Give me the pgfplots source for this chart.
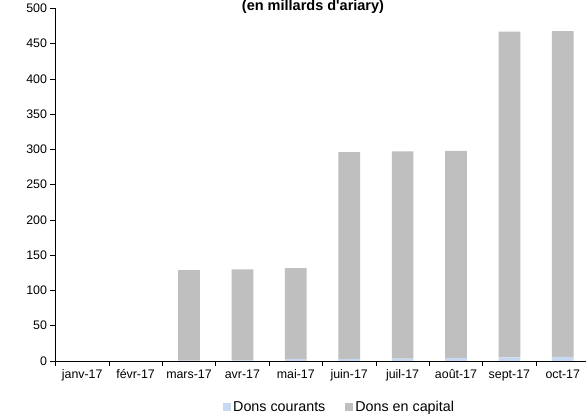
\documentclass[border=0pt]{standalone}
\usepackage{pgfplots}
\pgfplotsset{compat=1.18}
\usepackage{fontspec}
\setmainfont{Liberation Sans}
\definecolor{courant}{RGB}{198,217,241}
\definecolor{capital}{RGB}{191,191,191}
\begin{document}
\begin{tikzpicture}
\path[use as bounding box] (-55.5pt,-56pt) rectangle (530.5pt,361pt);
\begin{axis}[
  at={(0pt,0pt)}, anchor=south west,
  scale only axis, width=534pt, height=352.7pt,
  ybar stacked, bar width=21.7pt,
  xmin=-0.5, xmax=9.5, ymin=0, ymax=500,
  ytick={0,50,...,500},
  xtick={0,...,9},
  xticklabels={janv-17,févr-17,mars-17,avr-17,mai-17,juin-17,juil-17,août-17,sept-17,oct-17},
  major x tick style={draw=none},
  minor xtick={-0.5,0.5,...,9.5},
  tick align=outside, major tick length=5pt, minor tick length=5pt,
  tick style={black, line width=0.6pt},
  axis x line*=bottom, axis y line*=left,
  axis line style={black, line width=0.8pt, -},
  /pgf/number format/assume math mode=true,
  tick label style={font=\fontsize{12.4}{14}\selectfont, text=black},
  legend style={at={(axis description cs:0.532,-0.131)}, anchor=center,
    draw=none, fill=none, legend columns=2,
    font=\fontsize{14.3}{16}\selectfont,
    /tikz/every even column/.append style={column sep=18pt}},
]
\addplot[fill=courant, draw=none,
  legend image code/.code={\fill[courant] (0pt,-4pt) rectangle (8pt,4pt);}]
  coordinates {(0,0) (1,0) (2,0.5) (3,1) (4,2.5) (5,3) (6,3.5) (7,4.5) (8,5) (9,6)};
\addlegendentry{Dons courants}
\addplot[fill=capital, draw=none,
  legend image code/.code={\fill[capital] (0pt,-4pt) rectangle (8pt,4pt);}]
  coordinates {(0,0) (1,0) (2,128.5) (3,129) (4,129) (5,293) (6,293.5) (7,293.5) (8,462) (9,461.5)};
\addlegendentry{Dons en capital}
\end{axis}
\node[font=\bfseries\fontsize{14.5}{16}\selectfont, anchor=center] at (257.5pt,354.5pt) {(en millards d\textquotesingle ariary)};
\end{tikzpicture}
\end{document}
